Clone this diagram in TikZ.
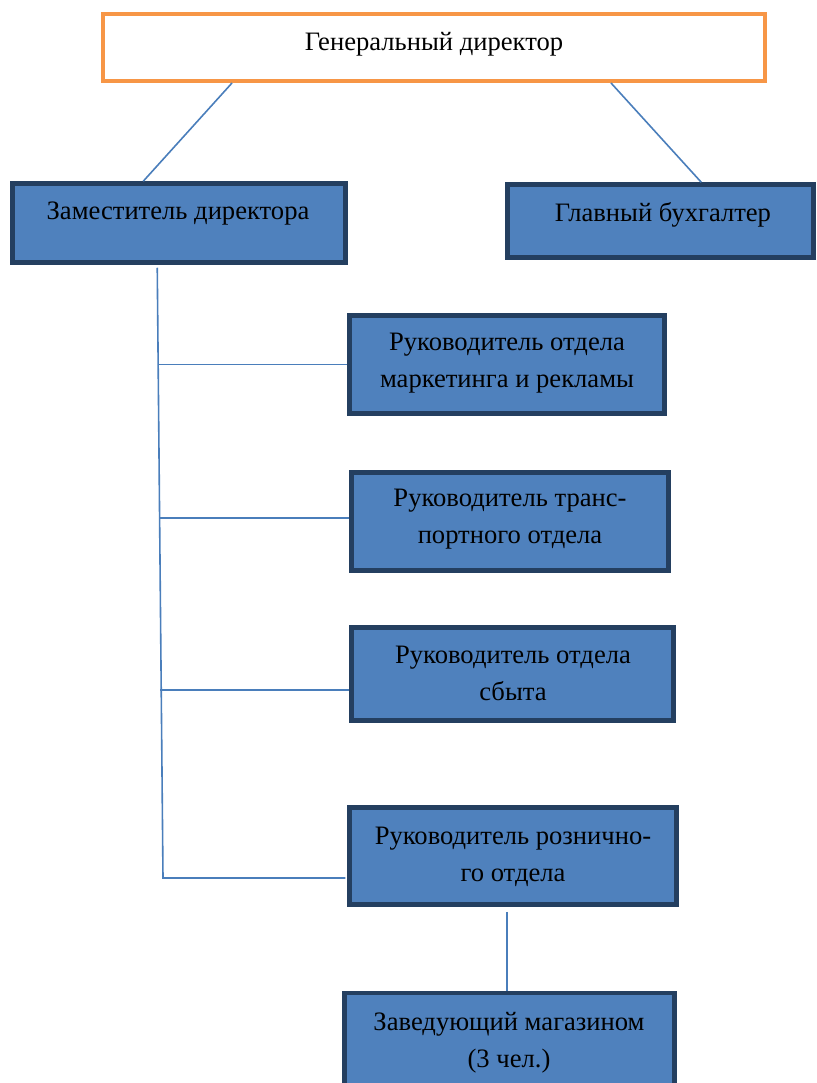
\documentclass[tikz,border=0pt]{standalone}
\usepackage{fontspec}
\setmainfont{Liberation Serif}
\usetikzlibrary{calc}
\definecolor{boxfill}{HTML}{4F81BD}
\definecolor{boxedge}{HTML}{243F60}
\definecolor{orangeedge}{HTML}{F79646}
\definecolor{linkblue}{HTML}{4A7EBB}
\tikzset{
  bluebox/.style={draw=boxedge, fill=boxfill, line width=4.5pt, inner sep=0pt},
  topbox/.style={draw=orangeedge, fill=white, line width=4pt, inner sep=0pt},
  txt/.style={font=\fontsize{26.6}{37}\selectfont, align=center, inner sep=0pt, text=black},
  conn/.style={draw=linkblue, line width=1.6pt}
}
\begin{document}
\begin{tikzpicture}[x=1pt,y=-1pt]
\useasboundingbox (0,0) rectangle (816,1083);
% boxes
\node[topbox, minimum width=662pt, minimum height=67pt] (gd) at (434,47.5) {};
\node[bluebox, minimum width=333pt, minimum height=79pt] (dep) at (179,223) {};
\node[bluebox, minimum width=306pt, minimum height=73pt] (acc) at (660.5,221) {};
\node[bluebox, minimum width=315pt, minimum height=98pt] (mkt) at (507,364.5) {};
\node[bluebox, minimum width=317pt, minimum height=98pt] (trn) at (510,521.5) {};
\node[bluebox, minimum width=322pt, minimum height=93pt] (sal) at (512.5,674) {};
\node[bluebox, minimum width=327pt, minimum height=97pt] (ret) at (513,856) {};
\node[bluebox, minimum width=330pt, minimum height=100pt] (sto) at (509.5,1043) {};
% texts
\node[txt] (tgd) at (434,44) {Генеральный директор};
\node[txt] (tdep) at (178,214) {Заместитель директора};
\node[txt] (tacc) at (663,215) {Главный бухгалтер};
\node[txt] (tmkt) at (507,363) {Руководитель отдела\\маркетинга и рекламы};
\node[txt] (ttrn) at (510,519.5) {Руководитель транс-\\портного отдела};
\node[txt] (tsal) at (513,673.5) {Руководитель отдела\\сбыта};
\node[txt] (tret) at (513,856.5) {Руководитель рознично-\\го отдела};
\node[txt] (tsto) at (509,1042.5) {Заведующий магазином\\(3 чел.)};
% connectors
\draw[conn] ([xshift=131pt]gd.south west) -- ([xshift=133pt]dep.north west);
\draw[conn] ([xshift=510pt]gd.south west) -- ([xshift=196pt]acc.north west);
\coordinate (trunkbot) at (163,878);
\coordinate (b1) at (158,364.5);
\coordinate (b2) at (159,518);
\coordinate (b3) at (160,690);
\draw[conn] ([xshift=147pt,yshift=-3pt]dep.south west) -- (trunkbot) -- ([xshift=-2pt,yshift=-22pt]ret.west);
\draw[conn] (b1) -- (mkt.west);
\draw[conn] (b2) -- ([yshift=3.5pt]trn.west);
\draw[conn] (b3) -- ([yshift=-16pt]sal.west);
\draw[conn] ([xshift=-6pt,yshift=-5pt]ret.south) -- ([xshift=-2.5pt]sto.north);
\end{tikzpicture}
\end{document}
